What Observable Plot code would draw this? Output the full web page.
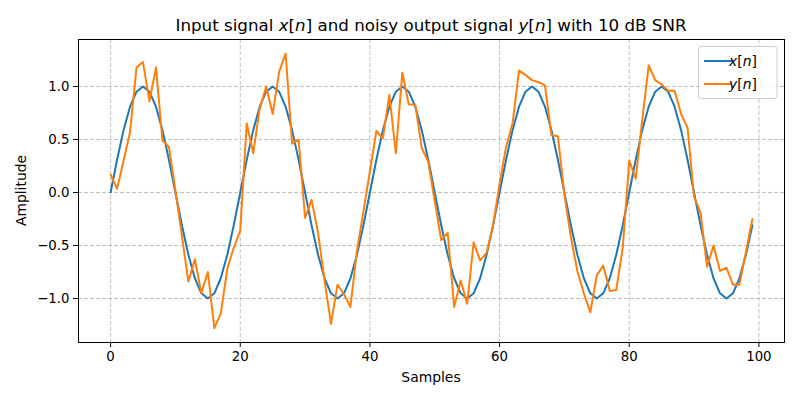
<!DOCTYPE html>
<html>
<head>
<meta charset="utf-8">
<script src="https://cdn.jsdelivr.net/npm/d3@7"></script>
<script src="https://cdn.jsdelivr.net/npm/@observablehq/plot@0.6"></script>
<style>
  html, body { margin: 0; padding: 0; background: #fff; }
  #chart svg { display: block; }
</style>
</head>
<body>
<div id="chart"></div>
<script>
const samples = d3.range(100);
const xSignal = [
  0, 0.309, 0.588, 0.809, 0.951, 1, 0.951, 0.809, 0.588, 0.309,
  0, -0.309, -0.588, -0.809, -0.951, -1, -0.951, -0.809, -0.588, -0.309,
  0, 0.309, 0.588, 0.809, 0.951, 1, 0.951, 0.809, 0.588, 0.309,
  0, -0.309, -0.588, -0.809, -0.951, -1, -0.951, -0.809, -0.588, -0.309,
  0, 0.309, 0.588, 0.809, 0.951, 1, 0.951, 0.809, 0.588, 0.309,
  0, -0.309, -0.588, -0.809, -0.951, -1, -0.951, -0.809, -0.588, -0.309,
  0, 0.309, 0.588, 0.809, 0.951, 1, 0.951, 0.809, 0.588, 0.309,
  0, -0.309, -0.588, -0.809, -0.951, -1, -0.951, -0.809, -0.588, -0.309,
  0, 0.309, 0.588, 0.809, 0.951, 1, 0.951, 0.809, 0.588, 0.309,
  0, -0.309, -0.588, -0.809, -0.951, -1, -0.951, -0.809, -0.588, -0.309
];
const ySignal = [
  0.17, 0.035, 0.30, 0.57, 1.18, 1.23, 0.86, 1.18, 0.49, 0.43,
  0.02, -0.41, -0.84, -0.63, -0.95, -0.75, -1.28, -1.14, -0.72, -0.52,
  -0.36, 0.65, 0.37, 0.79, 1.00, 0.74, 1.14, 1.31, 0.46, 0.50,
  -0.24, -0.07, -0.38, -0.83, -1.24, -0.87, -0.96, -1.08, -0.55, -0.18,
  0.20, 0.58, 0.51, 0.92, 0.37, 1.13, 0.83, 0.83, 0.42, 0.29,
  -0.08, -0.45, -0.38, -1.08, -0.83, -1.05, -0.47, -0.64, -0.57, -0.31,
  0.08, 0.43, 0.65, 1.15, 1.11, 1.06, 1.04, 1.01, 0.54, 0.53,
  -0.02, -0.42, -0.74, -0.95, -1.13, -0.78, -0.69, -0.93, -0.92, -0.52,
  0.30, 0.13, 0.68, 1.20, 1.06, 1.02, 0.96, 0.96, 0.74, 0.61,
  -0.04, -0.19, -0.70, -0.50, -0.74, -0.71, -0.87, -0.87, -0.56, -0.25
];
const xTicks = [0, 20, 40, 60, 80, 100];
const yTicks = [-1, -0.5, 0, 0.5, 1];
const seriesNames = ["x[n]", "y[n]"];
const seriesColors = ["#1f77b4", "#ff7f0e"];
const titleText = ["Input signal ", "x", "[", "n", "] and noisy output signal ", "y", "[", "n", "] with 10 dB SNR"];
const xLabel = "Samples";
const yLabel = "Amplitude";

const data = samples.map((n, i) => ({n, x: xSignal[i], y: ySignal[i]}));

const W = 800, H = 400;
const mL = 78, mR = 16, mT = 39, mB = 58;
const font = "DejaVu Sans, sans-serif";

const chart = Plot.plot({
  width: W,
  height: H,
  marginLeft: mL,
  marginRight: mR,
  marginTop: mT,
  marginBottom: mB,
  style: {fontFamily: font, fontSize: "13.3px", color: "black", background: "white", overflow: "visible"},
  x: {domain: [-4.95, 103.95]},
  y: {domain: [-1.415, 1.443]},
  marks: [
    Plot.gridX(xTicks, {stroke: "#b0b0b0", strokeOpacity: 1, strokeWidth: 0.8, strokeDasharray: "4,2"}),
    Plot.gridY(yTicks, {stroke: "#b0b0b0", strokeOpacity: 1, strokeWidth: 0.8, strokeDasharray: "4,2"}),
    Plot.line(data, {x: "n", y: "x", stroke: seriesColors[0], strokeWidth: 2}),
    Plot.line(data, {x: "n", y: "y", stroke: seriesColors[1], strokeWidth: 2}),
    Plot.frame({stroke: "black", strokeWidth: 1}),
    Plot.axisX(xTicks, {tickSize: 5, tickPadding: 4, label: null, tickFormat: d3.format("d"), fontSize: 13.3}),
    Plot.axisY(yTicks, {tickSize: 5, tickPadding: 4, label: null, tickFormat: d3.format(".1f"), fontSize: 13.3})
  ]
});

document.getElementById("chart").appendChild(chart);

const svg = d3.select(chart);
const cx = (mL + (W - mR)) / 2;

// Title with italic math parts
const title = svg.append("text")
  .attr("x", cx).attr("y", 31)
  .attr("text-anchor", "middle")
  .style("font-family", font).style("font-size", "16.7px").attr("fill", "black");
titleText.forEach(t => {
  const ts = title.append("tspan").text(t);
  if (t === "x" || t === "y" || t === "n") ts.style("font-style", "italic");
});

// Axis labels
svg.append("text")
  .attr("x", cx).attr("y", 382)
  .attr("text-anchor", "middle")
  .style("font-family", font).style("font-size", "13.9px").attr("fill", "black")
  .text(xLabel);
svg.append("text")
  .attr("transform", `translate(26,${(mT + (H - mB)) / 2}) rotate(-90)`)
  .attr("text-anchor", "middle")
  .style("font-family", font).style("font-size", "13.9px").attr("fill", "black")
  .text(yLabel);

// Legend (upper right)
const lg = svg.append("g");
lg.append("rect")
  .attr("x", 698.5).attr("y", 46.5).attr("width", 78.5).attr("height", 52)
  .attr("rx", 3).attr("ry", 3)
  .attr("fill", "white").attr("fill-opacity", 0.8)
  .attr("stroke", "#cccccc").attr("stroke-width", 1);
seriesNames.forEach((name, i) => {
  const yy = 61 + i * 23;
  lg.append("line")
    .attr("x1", 704).attr("x2", 732).attr("y1", yy).attr("y2", yy)
    .attr("stroke", seriesColors[i]).attr("stroke-width", 2);
  const t = lg.append("text")
    .attr("x", 743).attr("y", yy + 5)
    .style("font-family", font).style("font-size", "13.9px").attr("fill", "black");
  const m = name.match(/^(\w)\[(\w)\]$/);
  t.append("tspan").style("font-style", "italic").text(m[1]);
  t.append("tspan").text("[");
  t.append("tspan").style("font-style", "italic").text(m[2]);
  t.append("tspan").text("]");
});
</script>
</body>
</html>
